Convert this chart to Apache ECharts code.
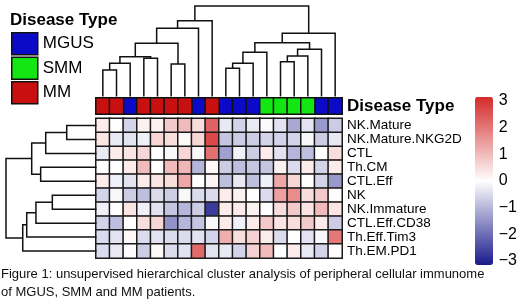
<!DOCTYPE html>
<html><head><meta charset="utf-8">
<script src="https://cdn.jsdelivr.net/npm/echarts@6/dist/echarts.min.js"></script>
<style>html,body{margin:0;padding:0;background:#fff}#c{width:520px;height:306px}</style>
</head><body><div id="c"></div>
<script>
// ---- data ----
const rowNames = ['NK.Mature','NK.Mature.NKG2D','CTL','Th.CM','CTL.Eff','NK','NK.Immature','CTL.Eff.CD38','Th.Eff.Tim3','Th.EM.PD1'];
const colTypes = ['MM','MM','MGUS','MM','MM','MM','MM','MGUS','MM','MGUS','MGUS','MGUS','SMM','SMM','SMM','SMM','MGUS','MGUS'];
const diseaseTypes = ['MGUS','SMM','MM'];
const valsNKMature      = [0.3, 0, -0.6, 0.2, 0.2, 0.8, 1.0, 0.5, 2.3, -0.3, -0.6, -0.3, -0.05, -0.4, -1.2, -0.4, -1.4, -0.7];
const valsNKMatureNKG2D = [0.4, -0.3, -0.4, -0.2, 0.6, 0.5, 0.1, 0.6, 2.7, -0.8, -0.7, -0.7, -0.6, -0.6, -0.6, -0.1, -0.7, -0.3];
const valsCTL           = [-0.3, 0.3, 0.4, 0.6, 0, -0.1, 0.6, -0.1, 2.1, -1.3, -0.2, -0.7, 0.3, -0.4, -1.0, -0.9, 0, 0.5];
const valsThCM          = [0, 0, 0.3, 1.0, 0, 1.0, 1.1, -1.0, 0.1, -0.7, -0.9, -0.8, -0.8, 0.2, -0.5, 0.3, -0.6, 0.3];
const valsCTLEff        = [0.3, -0.2, -0.4, 0.3, 0.4, 0.5, 1.3, 0, 0.15, -0.9, -0.3, -0.9, -0.2, 1.3, 0.6, 0, -0.6, -1.4];
const valsNK            = [-0.6, -0.1, -0.7, -0.9, -0.5, -0.7, -0.1, -0.5, -0.5, 0.3, 0.2, 0, -0.5, 1.4, 1.7, 0.5, 0.8, 0.05];
const valsNKImmature    = [-0.2, 0, 0.4, -0.2, -0.4, -0.8, -1.0, -0.7, -2.7, 0.3, 0.3, 0.2, 0, 0.5, 0.8, 0.4, 1.0, 0.4];
const valsCTLEffCD38    = [-0.6, -0.9, 0, 0.5, 0.6, -1.5, -1.0, -0.8, -0.1, 0.3, -0.2, 0.3, 0.8, 0.4, 0.5, 0.8, 0.3, -0.7];
const valsThEffTim3     = [-0.5, -0.4, 0.1, -0.5, -0.4, -0.5, -0.5, -0.4, -0.6, 1.2, 0.5, 0.7, 0.3, -0.5, 0, -0.4, -0.1, 2.0];
const valsThEMPD1       = [-0.5, -0.3, 0.05, -0.7, 0.1, -0.5, -0.4, 2.2, -0.4, -0.3, -0.6, 0.7, 1.0, 0, 0.3, -0.3, -0.6, 0.05];
// hclust-style merges: [a, b, height]; negative = leaf (1-based), positive = earlier merge
const colMerge = [[-1,-2,2.93],[1,-3,3.67],[-4,-5,4.22],[2,3,4.40],[-6,-7,3.59],[4,5,5.88],[6,-8,7.54],[7,-9,8.38],
  [-10,-11,3.12],[9,-12,3.67],[10,-13,4.88],[-14,-15,3.85],[12,-16,4.48],[13,-17,5.22],[11,14,5.94],[15,-18,6.98],[8,16,10]];
const rowMerge = [[-1,-2,3.29],[1,-3,5.61],[-4,-5,6.17],[2,3,7.16],[-6,-7,4.88],[5,-8,6.69],[6,-9,7.71],[7,-10,8.15],[4,8,10]];
const colorbarTicks = [-3,-2,-1,0,1,2,3];

// ---- build ----
const rows = [valsNKMature,valsNKMatureNKG2D,valsCTL,valsThCM,valsCTLEff,valsNK,valsNKImmature,valsCTLEffCD38,valsThEffTim3,valsThEMPD1];
const heat = [];
rows.forEach((r,ri)=>r.forEach((v,ci)=>heat.push([ci,ri,v])));
const typeColor = {MGUS:'#0a0ac8', SMM:'#14e614', MM:'#c81010'};
function buildDendro(merge){
  const pos=[], ht=[], items=[];
  merge.forEach((m,i)=>{
    const [a,b,h]=m;
    const pa = a<0 ? -a-1 : pos[a-1], ha = a<0 ? 0 : ht[a-1];
    const pb = b<0 ? -b-1 : pos[b-1], hb = b<0 ? 0 : ht[b-1];
    pos[i]=(pa+pb)/2; ht[i]=h;
    items.push([pa,pb,ha,hb,h]);
  });
  return items;
}
const colD = buildDendro(colMerge), rowD = buildDendro(rowMerge);
const F = 'Liberation Sans, Arial, sans-serif';
const L=96, W=246, T=118.5, H=139.5;
const colIdx = colTypes.map((_,i)=>String(i));
const annotSeries = diseaseTypes.map(t=>({
  name:t, type:'heatmap', xAxisIndex:1, yAxisIndex:1,
  data: colTypes.map((ct,i)=>ct===t?[i,0,1]:null).filter(d=>d),
  itemStyle:{color:typeColor[t], borderColor:'#111', borderWidth:1.5},
  emphasis:{disabled:true}
}));
const chart = echarts.init(document.getElementById('c'), null, {renderer:'canvas'});
chart.setOption({
  animation:false,
  textStyle:{fontFamily:F},
  title:{text:'Disease Type', left:5, top:7, textStyle:{fontFamily:F, fontSize:17, fontWeight:'bold', color:'#000'}},
  legend:{data:diseaseTypes, orient:'vertical', left:6, top:27, itemWidth:26, itemHeight:22, itemGap:1, icon:'rect',
    itemStyle:{borderColor:'#111', borderWidth:1.5}, textStyle:{fontFamily:F, fontSize:17, color:'#000'}, selectedMode:false},
  grid:[
    {left:L, top:T, width:W, height:H},
    {left:L, top:98, width:W, height:16},
    {left:L, top:6, width:W, height:90.5},
    {left:6, top:T, width:90.5, height:H},
    {left:475, top:101, width:18, height:160}
  ],
  xAxis:[
    {gridIndex:0, type:'category', data:colIdx, show:false},
    {gridIndex:1, type:'category', data:colIdx, show:false},
    {gridIndex:2, type:'value', min:-0.5, max:17.5, show:false},
    {gridIndex:3, type:'value', min:0, max:10, inverse:true, show:false},
    {gridIndex:4, type:'value', show:false}
  ],
  yAxis:[
    {gridIndex:0, type:'category', data:rowNames, inverse:true, position:'right',
      axisLine:{show:false}, axisTick:{show:false}, axisLabel:{interval:0, fontFamily:F, fontSize:13.5, color:'#000', margin:5}},
    {gridIndex:1, type:'category', data:['Disease Type'], position:'right',
      axisLine:{show:false}, axisTick:{show:false}, axisLabel:{interval:0, fontFamily:F, fontSize:17, fontWeight:'bold', color:'#000', margin:5}},
    {gridIndex:2, type:'value', min:0, max:10, show:false},
    {gridIndex:3, type:'value', min:-0.5, max:9.5, inverse:true, show:false},
    {gridIndex:4, type:'value', min:-3, max:3, interval:1, position:'right', splitLine:{show:false},
      axisLine:{show:false}, axisTick:{show:false},
      axisLabel:{fontFamily:F, fontSize:16, color:'#000', margin:6, formatter:v=>String(v).replace('-','\u2212')}}
  ],
  visualMap:{type:'continuous', seriesIndex:0, min:-3.15, max:3.15, left:475, top:97, itemWidth:18, itemHeight:168,
    padding:0, calculable:false, text:null, inRange:{color:['#1a1a8c','#ffffff','#d42a2a']}},
  series:[
    {type:'heatmap', xAxisIndex:0, yAxisIndex:0, data:heat, itemStyle:{borderColor:'#1a1a1a', borderWidth:1.5}, emphasis:{disabled:true}},
    ...annotSeries,
    {type:'custom', xAxisIndex:2, yAxisIndex:2, data:colD, silent:true,
      renderItem:(p,api)=>{const xl=api.value(0),xr=api.value(1),hl=api.value(2),hr=api.value(3),h=api.value(4);
        return {type:'polyline', shape:{points:[api.coord([xl,hl]),api.coord([xl,h]),api.coord([xr,h]),api.coord([xr,hr])]},
          style:{stroke:'#111', lineWidth:1.5, fill:null}};}},
    {type:'custom', xAxisIndex:3, yAxisIndex:3, data:rowD, silent:true,
      renderItem:(p,api)=>{const yl=api.value(0),yr=api.value(1),hl=api.value(2),hr=api.value(3),h=api.value(4);
        return {type:'polyline', shape:{points:[api.coord([hl,yl]),api.coord([h,yl]),api.coord([h,yr]),api.coord([hr,yr])]},
          style:{stroke:'#111', lineWidth:1.5, fill:null}};}},
    {type:'scatter', xAxisIndex:4, yAxisIndex:4, data:colorbarTicks.map(t=>[0,t]), symbolSize:0, silent:true}
  ],
  graphic:[
    {type:'text', left:1, top:268, style:{text:'Figure 1: unsupervised hierarchical cluster analysis of peripheral cellular immunome', font:'13px '+F, fill:'#111'}},
    {type:'text', left:1, top:286, style:{text:'of MGUS, SMM and MM patients.', font:'13px '+F, fill:'#111'}}
  ]
});
</script></body></html>
